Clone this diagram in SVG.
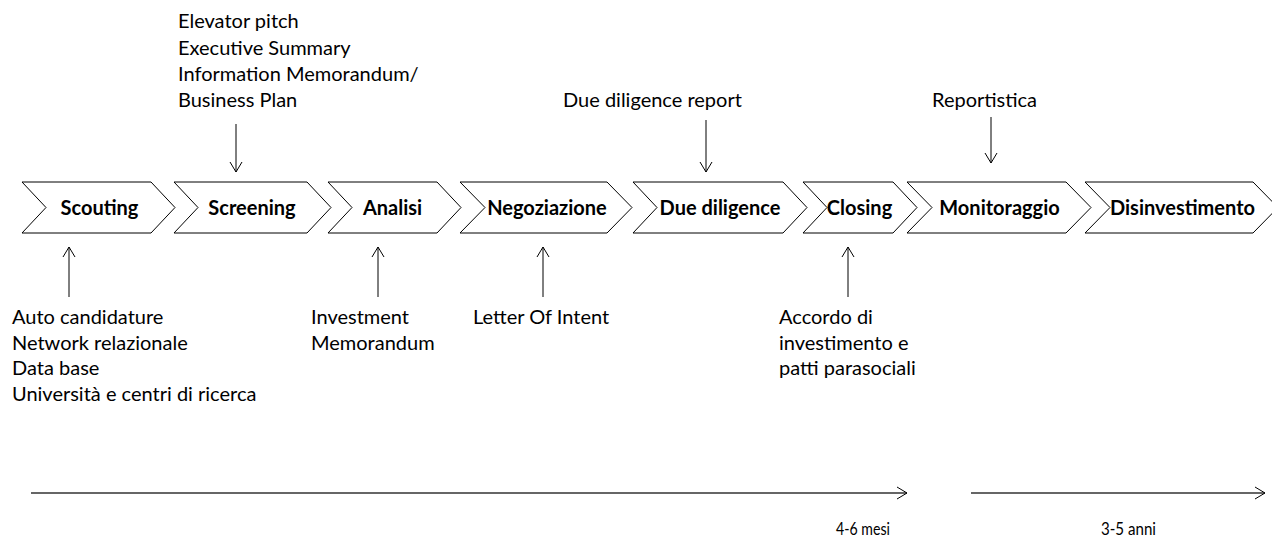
<svg xmlns="http://www.w3.org/2000/svg" width="1272" height="540" viewBox="0 0 1272 540">
<style>
.chev{fill:#fff;stroke:#000;stroke-width:1}
.lbl{font-family:Lato,"Liberation Sans",sans-serif;font-weight:bold;font-size:20px;fill:#000;text-anchor:middle}
.txt{font-family:Lato,"Liberation Sans",sans-serif;font-size:20px;fill:#000}
.sm{font-family:Lato,"Liberation Sans",sans-serif;font-size:17px;fill:#000}
.conn{stroke:#000;stroke-width:1;fill:none}
.time{stroke:#333;stroke-width:1.6;fill:none}
</style>
<defs>
<marker id="ah" markerWidth="14" markerHeight="14" refX="11" refY="7" orient="auto" markerUnits="userSpaceOnUse">
<path d="M1,1 L11,7 L1,13" fill="none" stroke="#000" stroke-width="1"/>
</marker>
</defs>
<g id="n-scouting"><polygon class="chev" points="22,182 151,182 175,207.5 151,233 22,233 46,207.5"/><text class="lbl" x="99.5" y="215">Scouting</text></g>
<g id="n-screening"><polygon class="chev" points="174,182 307,182 331,207.5 307,233 174,233 198,207.5"/><text class="lbl" x="252" y="215">Screening</text></g>
<g id="n-analisi"><polygon class="chev" points="328,182 437,182 461,207.5 437,233 328,233 352,207.5"/><text class="lbl" x="392.5" y="215">Analisi</text></g>
<g id="n-negoziazione"><polygon class="chev" points="460,182 607,182 632,207.5 607,233 460,233 485,207.5"/><text class="lbl" x="547" y="215">Negoziazione</text></g>
<g id="n-duediligence"><polygon class="chev" points="633,182 783,182 807,207.5 783,233 633,233 657,207.5"/><text class="lbl" x="720" y="215">Due diligence</text></g>
<g id="n-closing"><polygon class="chev" points="803,182 893,182 917,207.5 893,233 803,233 827,207.5"/><text class="lbl" x="859.5" y="215">Closing</text></g>
<g id="n-monitoraggio"><polygon class="chev" points="907,182 1066,182 1091,207.5 1066,233 907,233 932,207.5"/><text class="lbl" x="999.5" y="215">Monitoraggio</text></g>
<g id="n-disinvestimento"><polygon class="chev" points="1085,182 1253,182 1278,207.5 1253,233 1085,233 1110,207.5"/><text class="lbl" x="1182.5" y="215">Disinvestimento</text></g>

<g id="t-screening" class="txt"><text x="178" y="28">Elevator pitch</text><text x="178" y="54.5">Executive Summary</text><text x="178" y="81">Information Memorandum/</text><text x="178" y="107">Business Plan</text></g>
<g id="t-duediligence" class="txt"><text x="563" y="107">Due diligence report</text></g>
<g id="t-reportistica" class="txt"><text x="932" y="107">Reportistica</text></g>
<g id="t-scouting" class="txt"><text x="12" y="324">Auto candidature</text><text x="12" y="349.5">Network relazionale</text><text x="12" y="375">Data base</text><text x="12" y="400.5">Università e centri di ricerca</text></g>
<g id="t-analisi" class="txt"><text x="311" y="324">Investment</text><text x="311" y="349.5">Memorandum</text></g>
<g id="t-negoziazione" class="txt"><text x="473" y="324">Letter Of Intent</text></g>
<g id="t-closing" class="txt"><text x="779" y="324">Accordo di</text><text x="779" y="349.5">investimento e</text><text x="779" y="375">patti parasociali</text></g>
<g id="t-time" class="sm"><text x="836" y="535" textLength="54" lengthAdjust="spacingAndGlyphs">4-6 mesi</text><text x="1101" y="535" textLength="55" lengthAdjust="spacingAndGlyphs">3-5 anni</text></g>

<g id="connectors">
<line class="conn" x1="236" y1="124" x2="236" y2="172" marker-end="url(#ah)"/>
<line class="conn" x1="706" y1="120" x2="706" y2="172" marker-end="url(#ah)"/>
<line class="conn" x1="991" y1="117" x2="991" y2="163" marker-end="url(#ah)"/>
<line class="conn" x1="69" y1="297" x2="69" y2="247" marker-end="url(#ah)"/>
<line class="conn" x1="378" y1="297" x2="378" y2="247" marker-end="url(#ah)"/>
<line class="conn" x1="543" y1="297" x2="543" y2="247" marker-end="url(#ah)"/>
<line class="conn" x1="848" y1="297" x2="848" y2="247" marker-end="url(#ah)"/>
<line class="time" x1="31" y1="493" x2="907" y2="493" marker-end="url(#ah)"/>
<line class="time" x1="971" y1="493" x2="1265" y2="493" marker-end="url(#ah)"/>
</g>
</svg>
